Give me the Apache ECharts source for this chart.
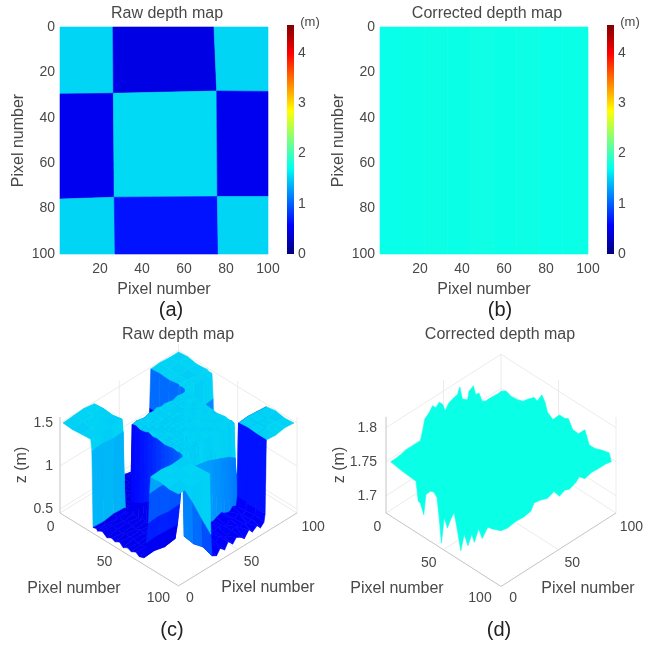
<!DOCTYPE html>
<html>
<head>
<meta charset="utf-8">
<style>html,body{margin:0;padding:0;background:#fff}#main{width:667px;height:646px}</style>
<script src="https://cdn.jsdelivr.net/npm/echarts@6/dist/echarts.min.js"></script>
</head>
<body>
<div id="main"></div>
<script>
// colour scale of both maps (jet, 0 to 4.55 m)
var colorMax = 4.55;
var jetStops = ['#00007f', '#0000ff', '#007fff', '#00fff0', '#7fff7f', '#ffff00', '#ff7f00', '#ff0000', '#7f0000'];
var barTicks = [0, 1, 2, 3, 4];
var xTicks = [20, 40, 60, 80, 100];

// (a) raw map: 3x3 blocks, block corners are slightly skewed
var rawMapX = [
    [1, 26.2, 74.3, 100],
    [1, 26.4, 75.6, 100],
    [1, 26.8, 75.9, 100],
    [1, 27.2, 76.3, 100]
];
var rawMapY = [
    [0, 0, 0, 0],
    [29.5, 29.2, 28.2, 28.4],
    [75.8, 75, 74.7, 74.7],
    [100, 100, 100, 100]
];
var rawMapZ = [
    [1.52, 0.45, 1.52],
    [0.5, 1.54, 0.5],
    [1.52, 0.65, 1.52]
];

// (b) corrected map: faint vertical stripes
var correctedEdges = [1, 12, 22, 33, 44, 55, 66, 77, 88, 100];
var correctedZ = [1.74, 1.75, 1.76, 1.75, 1.77, 1.75, 1.76, 1.74, 1.75];

// (c) raw surface, rows then columns
var surfRows = [0, 8, 16, 24, 25, 26, 29, 30, 31, 34, 38, 42, 45, 49, 52, 56, 59, 63, 66, 70, 72, 74, 75, 76, 84, 92, 100];
var surfCols = [0, 9, 18, 27, 28, 29, 33, 36, 40, 43, 47, 50, 54, 57, 61, 64, 68, 71, 74, 75, 76, 84, 92, 100];
var surfZ = [
    [1.50, 1.51, 1.52, 1.50, 1.00, 0.46, 0.45, 0.46, 0.45, 0.44, 0.46, 0.45, 0.46, 0.45, 0.44, 0.46, 0.45, 0.46, 0.45, 1.05, 1.50, 1.51, 1.50, 1.50],
    [1.49, 1.51, 1.50, 1.51, 1.00, 0.45, 0.47, 0.45, 0.46, 0.45, 0.45, 0.47, 0.45, 0.46, 0.45, 0.44, 0.46, 0.45, 0.46, 1.05, 1.51, 1.50, 1.52, 1.51],
    [1.50, 1.50, 1.49, 1.50, 1.00, 0.46, 0.44, 0.46, 0.45, 0.47, 0.45, 0.44, 0.46, 0.45, 0.46, 0.45, 0.45, 0.46, 0.44, 1.05, 1.50, 1.49, 1.51, 1.49],
    [1.51, 1.49, 1.51, 1.52, 1.00, 0.44, 0.46, 0.45, 0.47, 0.45, 0.46, 0.45, 0.45, 0.44, 0.46, 0.46, 0.45, 0.44, 0.46, 1.05, 1.52, 1.50, 1.50, 1.50],
    [1.38, 1.39, 1.37, 1.38, 0.80, 0.46, 0.45, 0.44, 0.46, 0.46, 0.44, 0.46, 0.45, 0.46, 0.45, 0.44, 0.46, 0.45, 0.45, 1.05, 1.50, 1.49, 1.52, 1.50],
    [0.50, 0.49, 0.51, 0.50, 0.47, 0.45, 0.46, 0.47, 0.45, 0.45, 0.46, 0.45, 0.44, 0.46, 0.45, 0.46, 0.45, 0.46, 0.45, 1.05, 1.51, 1.51, 1.50, 1.49],
    [0.51, 0.50, 0.49, 0.51, 0.47, 0.45, 0.46, 0.45, 0.44, 0.46, 0.45, 0.46, 0.45, 0.45, 0.46, 0.44, 0.46, 0.45, 0.47, 1.05, 1.51, 1.49, 1.51, 1.49],
    [0.49, 0.51, 0.50, 0.50, 0.50, 0.90, 0.90, 0.91, 0.90, 0.89, 0.90, 0.90, 0.91, 0.90, 0.90, 0.89, 0.90, 0.90, 0.91, 1.10, 1.20, 1.21, 1.19, 1.20],
    [0.50, 0.49, 0.52, 0.50, 0.60, 1.50, 1.51, 1.50, 1.49, 1.51, 1.50, 1.52, 1.50, 1.51, 1.50, 1.49, 1.51, 1.50, 1.50, 1.00, 0.50, 0.52, 0.49, 0.50],
    [0.52, 0.51, 0.49, 0.50, 0.62, 1.51, 1.50, 1.52, 1.50, 1.50, 1.49, 1.50, 1.51, 1.50, 1.52, 1.50, 1.50, 1.49, 1.51, 1.00, 0.49, 0.50, 0.52, 0.52],
    [0.48, 0.50, 0.51, 0.49, 0.65, 1.49, 1.51, 1.50, 1.51, 1.52, 1.50, 1.51, 1.50, 1.49, 1.51, 1.50, 1.52, 1.51, 1.50, 1.00, 0.51, 0.48, 0.50, 0.49],
    [0.51, 0.49, 0.50, 0.51, 0.68, 1.50, 1.49, 1.51, 1.50, 1.49, 1.51, 1.50, 1.52, 1.50, 1.50, 1.51, 1.49, 1.50, 1.52, 1.00, 0.52, 0.50, 0.49, 0.48],
    [0.49, 0.51, 0.49, 0.50, 0.72, 1.52, 1.50, 1.49, 1.51, 1.50, 1.50, 1.49, 1.50, 1.51, 1.50, 1.49, 1.50, 1.51, 1.50, 1.00, 0.49, 0.51, 0.51, 0.52],
    [0.52, 0.50, 0.51, 0.49, 0.76, 1.50, 1.51, 1.50, 1.50, 1.51, 1.52, 1.50, 1.51, 1.50, 1.49, 1.51, 1.50, 1.50, 1.51, 1.00, 0.50, 0.49, 0.50, 0.50],
    [0.48, 0.51, 0.50, 0.52, 0.80, 1.51, 1.50, 1.52, 1.49, 1.50, 1.51, 1.51, 1.49, 1.50, 1.51, 1.50, 1.49, 1.52, 1.50, 1.00, 0.51, 0.50, 0.48, 0.51],
    [0.51, 0.49, 0.51, 0.50, 0.84, 1.50, 1.49, 1.50, 1.51, 1.50, 1.49, 1.50, 1.51, 1.52, 1.50, 1.51, 1.50, 1.49, 1.50, 1.00, 0.49, 0.52, 0.50, 0.49],
    [0.49, 0.50, 0.49, 0.51, 0.88, 1.49, 1.51, 1.50, 1.50, 1.52, 1.50, 1.49, 1.50, 1.51, 1.50, 1.50, 1.51, 1.50, 1.49, 1.00, 0.50, 0.49, 0.51, 0.52],
    [0.52, 0.50, 0.51, 0.50, 0.92, 1.50, 1.50, 1.51, 1.49, 1.50, 1.51, 1.50, 1.49, 1.50, 1.52, 1.49, 1.50, 1.51, 1.50, 1.00, 0.51, 0.50, 0.50, 0.49],
    [0.49, 0.51, 0.50, 0.49, 0.96, 1.51, 1.50, 1.50, 1.52, 1.51, 1.50, 1.51, 1.50, 1.49, 1.50, 1.51, 1.50, 1.52, 1.51, 1.00, 0.49, 0.51, 0.49, 0.51],
    [0.51, 0.52, 0.49, 0.51, 1.00, 1.50, 1.49, 1.51, 1.50, 1.49, 1.50, 1.52, 1.50, 1.51, 1.49, 1.50, 1.51, 1.50, 1.50, 1.00, 0.50, 0.52, 0.51, 0.50],
    [0.70, 0.71, 0.70, 0.69, 1.05, 1.51, 1.50, 1.50, 1.49, 1.51, 1.50, 1.50, 1.51, 1.50, 1.50, 1.52, 1.50, 1.49, 1.51, 1.00, 0.51, 0.49, 0.50, 0.49],
    [0.95, 0.96, 0.94, 0.95, 1.10, 1.50, 1.51, 1.49, 1.50, 1.52, 1.50, 1.49, 1.50, 1.51, 1.50, 1.50, 1.49, 1.51, 1.50, 1.00, 0.49, 0.50, 0.51, 0.50],
    [1.30, 1.31, 1.30, 1.29, 1.20, 1.32, 1.31, 1.30, 1.29, 1.28, 1.27, 1.26, 1.24, 1.22, 1.20, 1.18, 1.16, 1.13, 1.10, 0.90, 0.62, 0.63, 0.61, 0.62],
    [1.50, 1.51, 1.49, 1.50, 1.15, 0.57, 0.54, 0.58, 0.55, 0.53, 0.57, 0.55, 0.54, 0.56, 0.58, 0.55, 0.53, 0.57, 0.55, 0.65, 1.50, 1.51, 1.50, 1.49],
    [1.51, 1.50, 1.52, 1.49, 1.05, 0.55, 0.58, 0.53, 0.57, 0.56, 0.54, 0.58, 0.56, 0.53, 0.57, 0.55, 0.58, 0.54, 0.56, 0.65, 1.51, 1.50, 1.49, 1.51],
    [1.49, 1.51, 1.50, 1.50, 0.92, 0.58, 0.55, 0.56, 0.54, 0.58, 0.55, 0.53, 0.57, 0.59, 0.54, 0.57, 0.53, 0.56, 0.58, 0.65, 1.50, 1.52, 1.51, 1.49],
    [1.50, 1.50, 1.49, 1.51, 0.80, 0.54, 0.51, 0.57, 0.52, 0.59, 0.53, 0.58, 0.55, 0.51, 0.58, 0.53, 0.57, 0.52, 0.56, 0.65, 1.50, 1.49, 1.51, 1.50]
];

// (d) corrected surface, read along its four outer edges
var edgeR0Col = [0, 4.5, 9, 13.6, 18, 23, 27, 29, 31, 35, 38, 41, 44, 47, 49.4, 53, 57.6, 60.6, 62.7, 65, 69.7, 71, 75, 77, 80, 83, 86, 92, 98, 100];
var edgeR0Z = [1.750, 1.750, 1.751, 1.753, 1.753, 1.753, 1.753, 1.766, 1.781, 1.786, 1.793, 1.787, 1.792, 1.786, 1.774, 1.782, 1.785, 1.786, 1.795, 1.775, 1.769, 1.780, 1.784, 1.769, 1.768, 1.753, 1.750, 1.750, 1.749, 1.750];
var edgeC100Row = [0, 4.5, 9, 15, 20, 24, 30, 33, 37, 40, 42, 47, 53, 58, 61, 65, 70, 76, 80, 85, 91, 98, 100];
var edgeC100Z = [1.750, 1.755, 1.752, 1.753, 1.756, 1.763, 1.772, 1.770, 1.783, 1.775, 1.763, 1.757, 1.770, 1.770, 1.773, 1.761, 1.760, 1.772, 1.754, 1.754, 1.758, 1.761, 1.750];
var edgeR100Col = [0, 6, 13.6, 21, 27, 30, 36, 42, 48, 53, 57.6, 62, 68, 71, 76, 82, 88, 95, 100];
var edgeR100Z = [1.752, 1.750, 1.752, 1.751, 1.753, 1.762, 1.760, 1.756, 1.760, 1.748, 1.752, 1.749, 1.753, 1.758, 1.750, 1.753, 1.752, 1.752, 1.750];
var edgeC0Row = [0, 10.6, 23, 25, 27, 30, 32, 36, 39, 42, 44, 46, 48.5, 51.5, 54.5, 57.5, 60.6, 63.6, 66.7, 70, 73.6, 75.8, 79.7, 83, 88, 92.4, 100];
var edgeC0Z = [1.750, 1.747, 1.745, 1.718, 1.717, 1.703, 1.735, 1.744, 1.746, 1.741, 1.713, 1.678, 1.718, 1.706, 1.722, 1.735, 1.711, 1.685, 1.713, 1.699, 1.720, 1.710, 1.734, 1.723, 1.745, 1.747, 1.752];

var pixelTicks = [0, 50, 100];
var rawZTicks = [0.5, 1, 1.5];
var correctedZTicks = [1.7, 1.75, 1.8];

var font = 'Liberation Sans, Arial, sans-serif';
var textColor = '#484848';
var wallColor = '#ececec';
var axisColor = '#c4c4c4';

function depthColor(z) {
    return echarts.color.lerp(z / colorMax, jetStops);
}

function quad(api, pts, fill) {
    var points = [];
    for (var i = 0; i < pts.length; i++) {
        points.push(api.coord(pts[i]));
    }
    return {
        type: 'polygon',
        shape: {points: points},
        style: {fill: fill, stroke: fill, lineWidth: 0.6}
    };
}

// 3d view: screen x follows row+col, screen y follows col-row and z
function makeView(m, rise, zMin, zTop, zScale, tickGap) {
    return {
        m: m, zMin: zMin, zTop: zTop, tickGap: tickGap,
        p: function (row, col, z) {
            return [row + col, (col - row) * rise + (z - zMin) * zScale];
        }
    };
}
var viewC = makeView(1.3, 0.71, 0.453, 1.57, 86, 7);
var viewD = makeView(2.1, 0.705, 1.6746, 1.816, 680, 9);

function line(api, a, b, color) {
    var p1 = api.coord(a), p2 = api.coord(b);
    return {
        type: 'line',
        shape: {x1: p1[0], y1: p1[1], x2: p2[0], y2: p2[1]},
        style: {stroke: color, lineWidth: 1}
    };
}

function label(pos, dx, dy, text, align) {
    return {
        type: 'text',
        x: pos[0] + dx,
        y: pos[1] + dy,
        style: {text: String(text), fill: textColor, font: '14px ' + font, align: align, verticalAlign: 'middle'}
    };
}

// walls, floor, axis lines and tick labels of a 3d panel
function frameRender(view, zTicks, zTopBack) {
    return function (params, api) {
        var p = view.p, m = view.m, lo = -m, hi = 100 + m, z0 = view.zMin, z1 = view.zTop;
        var kids = [];
        zTicks.forEach(function (t) {
            kids.push(line(api, p(lo, lo, t), p(lo, hi, t), wallColor));
            kids.push(line(api, p(lo, hi, t), p(hi, hi, t), wallColor));
        });
        kids.push(line(api, p(lo, 50, z0), p(lo, 50, z1), wallColor));
        kids.push(line(api, p(50, hi, z0), p(50, hi, z1), wallColor));
        kids.push(line(api, p(50, lo, z0), p(50, hi, z0), wallColor));
        kids.push(line(api, p(lo, 50, z0), p(hi, 50, z0), wallColor));
        kids.push(line(api, p(lo, hi, z0), p(lo, hi, zTopBack), wallColor));
        kids.push(line(api, p(lo, hi, z0), p(lo, lo, z0), wallColor));
        kids.push(line(api, p(lo, hi, z0), p(hi, hi, z0), wallColor));
        kids.push(line(api, p(hi, hi, z0), p(hi, hi, z1), wallColor));
        kids.push(line(api, p(lo, lo, z0), p(lo, lo, z1), axisColor));
        kids.push(line(api, p(lo, lo, z0), p(hi, lo, z0), axisColor));
        kids.push(line(api, p(hi, lo, z0), p(hi, hi, z0), axisColor));
        pixelTicks.forEach(function (t) {
            kids.push(label(api.coord(p(t, lo, z0)), -7, 13, t, 'right'));
            kids.push(label(api.coord(p(hi, t, z0)), 6, 13, t, 'left'));
        });
        zTicks.forEach(function (t) {
            kids.push(label(api.coord(p(lo, lo, t)), -view.tickGap, 0, t, 'right'));
        });
        return {type: 'group', children: kids};
    };
}

// one item per face, back to front
var surfFaces = [];
for (var r = 0; r < surfRows.length - 1; r++) {
    for (var c = surfCols.length - 2; c >= 0; c--) {
        surfFaces.push([r, c]);
    }
}

function surfRender(params, api) {
    var r = api.value(0), c = api.value(1), p = viewC.p;
    var fill = depthColor(surfZ[r][c]);
    return quad(api, [
        p(surfRows[r], surfCols[c], surfZ[r][c]),
        p(surfRows[r], surfCols[c + 1], surfZ[r][c + 1]),
        p(surfRows[r + 1], surfCols[c + 1], surfZ[r + 1][c + 1]),
        p(surfRows[r + 1], surfCols[c], surfZ[r + 1][c])
    ], fill);
}

function outlineRender(params, api) {
    var p = viewD.p, pts = [], i;
    for (i = 0; i < edgeR0Col.length; i++) pts.push(p(0, edgeR0Col[i], edgeR0Z[i]));
    for (i = 0; i < edgeC100Row.length; i++) pts.push(p(edgeC100Row[i], 100, edgeC100Z[i]));
    for (i = edgeR100Col.length - 1; i >= 0; i--) pts.push(p(100, edgeR100Col[i], edgeR100Z[i]));
    for (i = edgeC0Row.length - 1; i >= 0; i--) pts.push(p(edgeC0Row[i], 0, edgeC0Z[i]));
    return quad(api, pts, depthColor(1.75));
}

var rawCells = [];
rawMapZ.forEach(function (row, i) {
    row.forEach(function (z, j) {
        rawCells.push([i, j]);
    });
});

function rawMapRender(params, api) {
    var i = api.value(0), j = api.value(1);
    return quad(api, [
        [rawMapX[i][j], rawMapY[i][j]],
        [rawMapX[i][j + 1], rawMapY[i][j + 1]],
        [rawMapX[i + 1][j + 1], rawMapY[i + 1][j + 1]],
        [rawMapX[i + 1][j], rawMapY[i + 1][j]]
    ], depthColor(rawMapZ[i][j]));
}

function correctedMapRender(params, api) {
    var i = api.value(0);
    return quad(api, [
        [correctedEdges[i], 0], [correctedEdges[i + 1], 0],
        [correctedEdges[i + 1], 100], [correctedEdges[i], 100]
    ], depthColor(correctedZ[i]));
}

function colorbarRender(params, api) {
    var stops = jetStops.map(function (c, i) {
        return {offset: i / (jetStops.length - 1), color: c};
    });
    var a = api.coord([0, 0]), b = api.coord([1, colorMax]);
    return {
        type: 'rect',
        shape: {x: a[0], y: b[1], width: b[0] - a[0], height: a[1] - b[1]},
        style: {fill: new echarts.graphic.LinearGradient(0, 1, 0, 0, stops)}
    };
}

function mapXAxis(gridIndex) {
    return {
        type: 'value', gridIndex: gridIndex, min: 1, max: 100,
        name: 'Pixel number', nameLocation: 'middle', nameGap: 28,
        nameTextStyle: {fontFamily: font, fontSize: 16, color: textColor},
        axisLine: {show: false}, axisTick: {show: false}, splitLine: {show: false},
        axisLabel: {customValues: xTicks, fontFamily: font, fontSize: 14, color: textColor, margin: 8}
    };
}

function mapYAxis(gridIndex) {
    return {
        type: 'value', gridIndex: gridIndex, min: 0, max: 100, interval: 20, inverse: true,
        name: 'Pixel number', nameLocation: 'middle', nameGap: 33,
        nameTextStyle: {fontFamily: font, fontSize: 16, color: textColor},
        axisLine: {show: false}, axisTick: {show: false}, splitLine: {show: false},
        axisLabel: {fontFamily: font, fontSize: 14, color: textColor, margin: 5}
    };
}

function barYAxis(gridIndex) {
    return {
        type: 'value', gridIndex: gridIndex, position: 'right', min: 0, max: colorMax,
        axisLine: {show: false}, axisTick: {show: false}, splitLine: {show: false},
        axisLabel: {customValues: barTicks, fontFamily: font, fontSize: 14, color: textColor, margin: 4}
    };
}

function hiddenAxis(gridIndex, min, max) {
    return {type: 'value', gridIndex: gridIndex, min: min, max: max, show: false};
}

function heading(text, x, y, size, color) {
    return {
        text: text, left: x, top: y, textAlign: 'center', padding: 0,
        textStyle: {fontFamily: font, fontSize: size, fontWeight: 'normal', color: color}
    };
}

function rotated(text, x, y) {
    return {
        type: 'text', x: x, y: y, rotation: Math.PI / 2,
        style: {text: text, fill: textColor, font: '16px ' + font, textAlign: 'center', textVerticalAlign: 'middle'}
    };
}

function plain(text, x, y) {
    return {
        type: 'text', x: x, y: y,
        style: {text: text, fill: textColor, font: '16px ' + font, textAlign: 'center', textVerticalAlign: 'middle'}
    };
}

var myChart = echarts.init(document.getElementById('main'));
myChart.setOption({
    animation: false,
    backgroundColor: '#fff',
    title: [
        heading('Raw depth map', 167, 6, 16, textColor),
        heading('Corrected depth map', 487, 6, 16, textColor),
        heading('Raw depth map', 178, 327, 16, textColor),
        heading('Corrected depth map', 500, 327, 16, textColor),
        heading('(a)', 171, 300, 20, '#222'),
        heading('(b)', 500, 300, 20, '#222'),
        heading('(c)', 172, 620, 20, '#222'),
        heading('(d)', 499, 620, 20, '#222'),
        heading('(m)', 310, 16, 13, textColor),
        heading('(m)', 630, 16, 13, textColor)
    ],
    graphic: [
        rotated('z (m)', 22, 465),
        rotated('z (m)', 340, 465),
        plain('Pixel number', 74, 589),
        plain('Pixel number', 268, 588),
        plain('Pixel number', 397, 589),
        plain('Pixel number', 588, 589)
    ],
    grid: [
        {left: 60, top: 27, width: 208, height: 227},
        {left: 380, top: 27, width: 208, height: 227},
        {left: 287, top: 25, width: 7, height: 229},
        {left: 607, top: 25, width: 7, height: 229},
        {left: 60, top: 343, width: 237, height: 260},
        {left: 386, top: 343, width: 230, height: 260}
    ],
    xAxis: [
        mapXAxis(0), mapXAxis(1),
        hiddenAxis(2, 0, 1), hiddenAxis(3, 0, 1),
        hiddenAxis(4, -2 * viewC.m, 200 + 2 * viewC.m),
        hiddenAxis(5, -2 * viewD.m, 200 + 2 * viewD.m)
    ],
    yAxis: [
        mapYAxis(0), mapYAxis(1),
        barYAxis(2), barYAxis(3),
        hiddenAxis(4, -90, 170), hiddenAxis(5, -90, 170)
    ],
    series: [
        {type: 'custom', xAxisIndex: 0, yAxisIndex: 0, renderItem: rawMapRender, data: rawCells},
        {type: 'custom', xAxisIndex: 1, yAxisIndex: 1, renderItem: correctedMapRender,
            data: correctedZ.map(function (z, i) { return [i, z]; })},
        {type: 'custom', xAxisIndex: 2, yAxisIndex: 2, renderItem: colorbarRender, data: [[0, 0]]},
        {type: 'custom', xAxisIndex: 3, yAxisIndex: 3, renderItem: colorbarRender, data: [[0, 0]]},
        {type: 'custom', xAxisIndex: 4, yAxisIndex: 4, renderItem: frameRender(viewC, rawZTicks, 1.57), data: [[0, 0]], z: 1},
        {type: 'custom', xAxisIndex: 5, yAxisIndex: 5, renderItem: frameRender(viewD, correctedZTicks, 1.8), data: [[0, 0]], z: 1},
        {type: 'custom', xAxisIndex: 4, yAxisIndex: 4, renderItem: surfRender, data: surfFaces, z: 2},
        {type: 'custom', xAxisIndex: 5, yAxisIndex: 5, renderItem: outlineRender, data: [[0, 0]], z: 2}
    ]
});
</script>
</body>
</html>
